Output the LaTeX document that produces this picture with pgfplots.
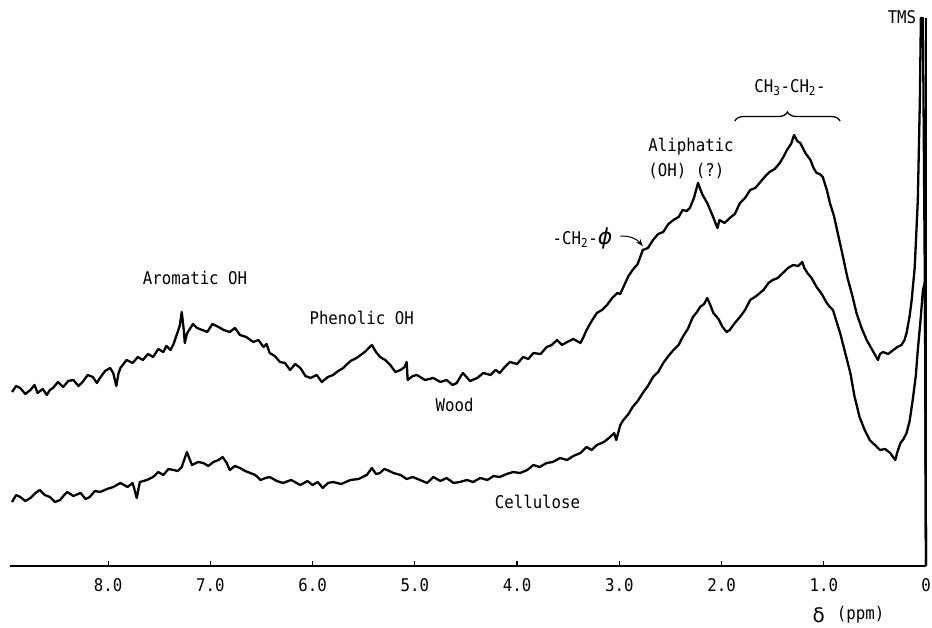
\documentclass[border=0pt]{standalone}
\usepackage{fontspec}
\setmainfont[FakeStretch=0.9]{DejaVu Sans Mono}
\newfontfamily\symfont{DejaVu Sans}
\usepackage{pgfplots}
\pgfplotsset{compat=1.18}
\usetikzlibrary{decorations.pathreplacing,arrows.meta}
\newcommand\lab{\fontsize{17.5}{20}\selectfont}

\pgfplotstableread{
ppm I
8.94 174
8.90 180
8.86 178
8.81 172
8.76 176
8.72 181
8.69 173
8.64 177
8.60 171
8.57 176
8.54 178
8.49 184
8.44 179
8.39 185
8.34 186
8.29 180
8.25 184
8.20 191
8.15 189
8.11 183
8.08 188
8.03 195
7.98 198
7.95 193
7.92 180
7.90 192
7.88 198
7.82 206
7.76 203
7.71 209
7.66 206
7.61 212
7.56 209
7.51 217
7.46 214
7.43 220
7.39 216
7.36 222
7.33 231
7.30 240
7.28 254
7.26 236
7.25 223
7.23 232
7.22 234
7.17 242
7.13 238
7.08 236
7.03 234
6.98 242
6.92 239
6.87 236
6.81 234
6.76 238
6.71 231
6.65 229
6.58 224
6.53 226
6.48 219
6.45 222
6.42 213
6.37 210
6.32 204
6.27 203
6.22 196
6.17 202
6.12 198
6.07 190
6.02 188
5.96 191
5.91 184
5.85 189
5.80 191
5.75 195
5.70 198
5.63 205
5.57 208
5.49 214
5.42 221
5.38 214
5.34 209
5.29 206
5.24 201
5.19 194
5.14 196
5.10 199
5.08 204
5.07 186
5.02 190
4.98 191
4.90 186
4.82 188
4.75 184
4.69 186
4.63 181
4.59 183
4.55 190
4.53 193
4.46 185
4.39 188
4.33 193
4.26 191
4.21 196
4.17 193
4.12 199
4.07 204
4.00 202
3.94 209
3.89 207
3.84 213
3.77 212
3.71 219
3.66 221
3.61 226
3.56 221
3.51 224
3.45 227
3.38 223
3.35 229
3.32 236
3.27 245
3.22 253
3.17 256
3.12 261
3.07 268
3.02 273
2.99 272
2.96 279
2.91 290
2.87 296
2.82 302
2.77 316
2.72 318
2.67 326
2.62 332
2.57 334
2.52 342
2.47 346
2.42 349
2.38 356
2.34 355
2.31 358
2.27 368
2.23 383
2.19 372
2.14 363
2.09 351
2.04 338
2.02 346
1.97 343
1.92 348
1.87 352
1.82 363
1.77 368
1.72 376
1.67 378
1.62 384
1.57 390
1.53 394
1.48 397
1.43 403
1.39 410
1.36 416
1.32 422
1.29 431
1.26 425
1.23 423
1.18 413
1.13 406
1.10 398
1.07 393
1.04 392
1.01 389
0.97 376
0.94 363
0.90 350
0.87 336
0.82 313
0.77 289
0.72 270
0.68 253
0.63 238
0.58 226
0.52 215
0.47 206
0.45 212
0.42 214
0.37 212
0.32 216
0.28 219
0.24 221
0.21 226
0.19 233
0.16 250
0.14 266
0.11 299
0.08 366
0.06 466
0.05 548
0.03 548
0.01 266
0.00 0
}\wood

\pgfplotstableread{
ppm I
8.94 64
8.90 71
8.86 69
8.81 65
8.76 68
8.71 73
8.67 76
8.62 71
8.57 69
8.52 64
8.47 66
8.43 71
8.40 74
8.34 70
8.27 73
8.22 67
8.18 69
8.13 75
8.08 74
8.01 77
7.95 79
7.88 83
7.81 79
7.76 83
7.72 68
7.69 84
7.62 86
7.56 89
7.51 94
7.46 91
7.41 97
7.36 96
7.32 95
7.28 99
7.23 114
7.18 101
7.12 104
7.07 103
7.02 100
6.97 104
6.92 106
6.88 109
6.84 103
6.81 96
6.76 100
6.71 98
6.66 95
6.61 93
6.56 91
6.51 86
6.46 88
6.42 89
6.35 85
6.29 83
6.21 86
6.12 81
6.05 85
6.00 81
5.95 84
5.90 78
5.85 83
5.80 84
5.72 82
5.63 86
5.55 87
5.47 91
5.42 98
5.38 92
5.34 93
5.30 97
5.27 96
5.21 93
5.14 91
5.08 87
5.02 89
4.95 86
4.88 83
4.85 86
4.82 89
4.75 85
4.69 88
4.62 83
4.56 84
4.49 86
4.43 84
4.36 88
4.29 86
4.23 90
4.17 89
4.10 92
4.04 94
3.97 93
3.90 96
3.84 101
3.78 99
3.71 103
3.65 104
3.58 108
3.51 106
3.45 110
3.38 113
3.32 119
3.27 116
3.22 121
3.15 124
3.09 129
3.05 133
3.03 126
2.99 141
2.96 146
2.91 152
2.87 159
2.82 165
2.77 173
2.72 180
2.67 189
2.62 194
2.57 203
2.52 210
2.47 216
2.42 221
2.38 229
2.33 237
2.28 249
2.24 254
2.21 259
2.17 262
2.14 268
2.11 261
2.08 253
2.03 247
1.99 239
1.95 234
1.92 236
1.87 243
1.82 249
1.77 256
1.72 266
1.66 270
1.59 276
1.54 283
1.50 286
1.45 288
1.40 293
1.35 298
1.30 301
1.25 300
1.21 304
1.19 298
1.16 293
1.12 288
1.07 279
1.02 272
0.97 263
0.94 259
0.91 256
0.88 246
0.84 233
0.79 213
0.74 193
0.70 170
0.65 149
0.60 136
0.55 126
0.50 121
0.45 116
0.40 117
0.35 113
0.33 110
0.30 106
0.28 114
0.25 123
0.22 127
0.19 133
0.16 145
0.13 166
0.10 190
0.08 216
0.05 250
0.03 276
0.01 284
0.00 0
}\cellulose

\begin{document}
\begin{tikzpicture}
\useasboundingbox (-10pt,-62pt) rectangle (922pt,566pt);
\begin{axis}[
  scale only axis,
  width=916pt, height=566pt,
  xmin=0, xmax=8.96, ymin=0, ymax=566,
  x dir=reverse,
  axis x line*=bottom,
  axis y line=none,
  x axis line style={-, line width=2pt},
  xtick={0,1,2,3,4,5,6,7,8},
  xticklabels={0,1.0,2.0,3.0,4.0,5.0,6.0,7.0,8.0},
  ytick=\empty,
  tick align=inside,
  major tick length=5pt,
  tick style={black, line width=1.2pt},
  xticklabel style={font=\lab, yshift=-9pt},
  clip=false,
]
\addplot[black, line width=2.3pt, line join=round] table[x=ppm, y=I] {\wood};
\addplot[black, line width=2.3pt, line join=round] table[x=ppm, y=I] {\cellulose};

\draw[line width=2pt] (axis cs:0,0) -- (axis cs:0,548);

\node[font=\lab] at (axis cs:7.15,288) {Aromatic OH};
\node[font=\lab] at (axis cs:5.52,248) {Phenolic OH};
\node[font=\lab] at (axis cs:4.61,161) {Wood};
\node[font=\lab] at (axis cs:3.80,64) {Cellulose};
\node[font=\lab] at (axis cs:3.36,328) {-CH\textsubscript{2}-{\symfont\fontsize{22}{24}\selectfont\itshape ϕ}};
\draw[-{Stealth[length=7pt]}, line width=1pt] (axis cs:2.99,330) to[bend left=25] (axis cs:2.77,320);
\node[font=\lab, anchor=west] at (axis cs:2.75,419) {Aliphatic};
\node[font=\lab, anchor=west] at (axis cs:2.75,395) {(OH) (?)};
\draw[line width=1.3pt, decorate, decoration={brace, amplitude=9pt}] (axis cs:1.87,445) -- (axis cs:0.84,445);
\node[font=\lab] at (axis cs:1.33,478) {CH\textsubscript{3}-CH\textsubscript{2}-};
\node[font=\lab] at (axis cs:0.235,549) {TMS};
\node at (axis cs:1.05,-49) {\symfont\fontsize{20}{22}\selectfont δ};
\node[font=\lab] at (axis cs:0.64,-49) {(ppm)};
\end{axis}
\end{tikzpicture}
\end{document}
